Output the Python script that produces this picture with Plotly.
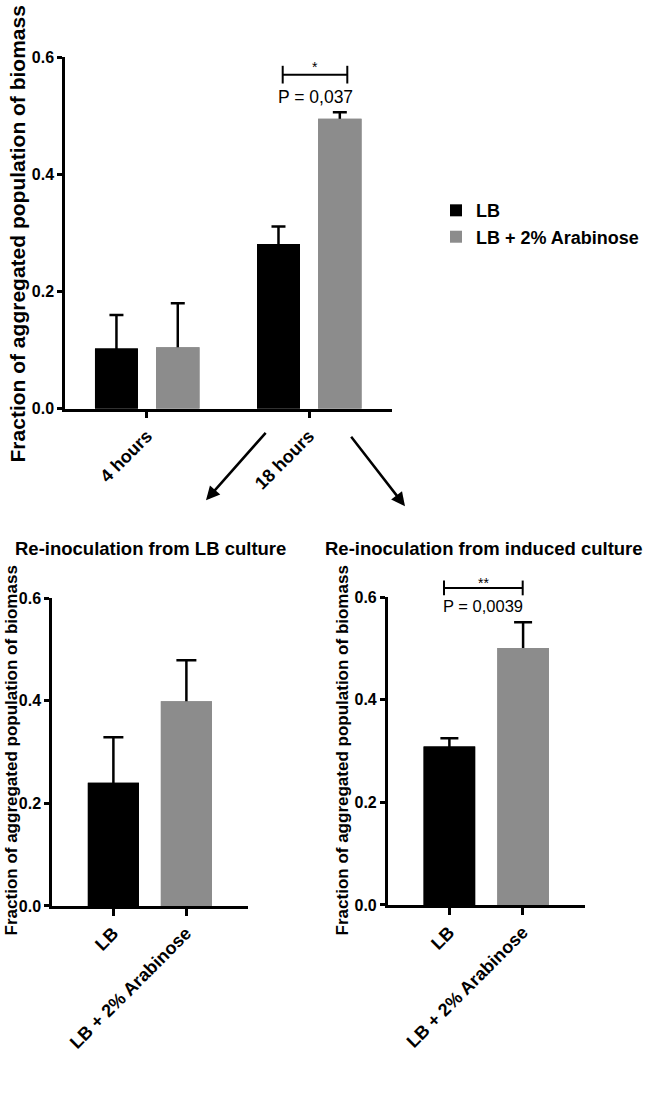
import plotly.graph_objects as go

W, H = 666, 1104

# ---- data ----
time_points = ["4 hours", "18 hours"]
lb_top = [0.103, 0.281]
lb_top_err = [0.057, 0.030]
ara_top = [0.105, 0.495]
ara_top_err = [0.075, 0.011]

conditions = ["LB", "LB + 2% Arabinose"]
reino_lb = [0.240, 0.399]
reino_lb_err = [0.089, 0.080]
reino_ind = [0.309, 0.501]
reino_ind_err = [0.016, 0.050]

y_ticks = [0, 0.2, 0.4, 0.6]
y_ticktext = ["0.0", "0.2", "0.4", "0.6"]

BLACK = "#000000"
GRAY = "#8c8c8c"
FONT = "Liberation Sans, Arial, Helvetica, sans-serif"


def px(x):
    return x / W


def py(y):
    return 1 - y / H


def err(vals, w):
    return dict(type="data", symmetric=True, array=vals,
                color=BLACK, thickness=2.5, width=w, visible=True)


fig = go.Figure()


def bars(x, y, e, color, offset, width, xa, ya, name=None, legend=False, ew=7):
    # bar with its error bar, then the same bar drawn again on top so that only the
    # upper half of the error bar shows (GraphPad style)
    fig.add_trace(go.Bar(x=x, y=y, name=name, marker=dict(color=color, line=dict(width=0)),
                         offset=offset, width=width, error_y=err(e, ew), showlegend=legend,
                         xaxis=xa, yaxis=ya))
    fig.add_trace(go.Bar(x=x, y=y, name=name, marker=dict(color=color, line=dict(width=0)),
                         offset=offset, width=width, showlegend=False, hoverinfo="skip",
                         xaxis=xa, yaxis=ya))


bars(time_points, lb_top, lb_top_err, BLACK, -0.321, 0.265, "x", "y", "LB", True)
bars(time_points, ara_top, ara_top_err, GRAY, 0.056, 0.268, "x", "y", "LB + 2% Arabinose", True)
bars(conditions, reino_lb, reino_lb_err, [BLACK, GRAY], -0.345, 0.70, "x2", "y2", ew=10)
bars(conditions, reino_ind, reino_ind_err, [BLACK, GRAY], -0.345, 0.70, "x3", "y3", ew=9)

axis_common = dict(showline=True, linecolor=BLACK, linewidth=2.5, ticks="outside", tickcolor=BLACK,
                   tickwidth=2.5, showgrid=False, zeroline=False, fixedrange=True)
xfont = dict(family=FONT, size=18, color=BLACK, weight="bold")
yfont = dict(family=FONT, size=16, color=BLACK, weight="bold")

fig.update_layout(
    width=W, height=H, margin=dict(l=0, r=0, t=0, b=0),
    paper_bgcolor="white", plot_bgcolor="white",
    barmode="overlay",
    font=dict(family=FONT, color=BLACK),
    showlegend=True,
    legend=dict(x=px(436), y=py(187), xanchor="left", yanchor="top",
                font=dict(family=FONT, size=18, color=BLACK, weight="bold"),
                bgcolor="rgba(0,0,0,0)", tracegroupgap=0, itemclick=False),
    xaxis=dict(domain=[px(65), px(392)], range=[-0.506, 1.512], anchor="y", ticklen=7,
               tickangle=-45, tickfont=xfont, **axis_common),
    yaxis=dict(domain=[py(407), py(50)], range=[0, 0.6], anchor="x", ticklen=5,
               tickvals=y_ticks, ticktext=y_ticktext, tickfont=yfont, **axis_common),
    xaxis2=dict(domain=[px(52), px(248)], range=[-0.836, 1.849], anchor="y2", ticklen=7,
                tickangle=-45, tickfont=xfont, **axis_common),
    yaxis2=dict(domain=[py(912), py(599.3)], range=[0, 0.6], anchor="x2", ticklen=5,
                tickvals=y_ticks, ticktext=y_ticktext, tickfont=yfont, **axis_common),
    xaxis3=dict(domain=[px(387.7), px(585)], range=[-0.832, 1.845], anchor="y3", ticklen=7,
                tickangle=-45, tickfont=xfont, **axis_common),
    yaxis3=dict(domain=[py(911), py(598.3)], range=[0, 0.6], anchor="x3", ticklen=5,
                tickvals=y_ticks, ticktext=y_ticktext, tickfont=yfont, **axis_common),
)


def text_ann(x, y, text, size, bold=True, angle=0):
    f = dict(family=FONT, size=size, color=BLACK)
    if bold:
        f["weight"] = "bold"
    return dict(x=px(x), y=py(y), xref="paper", yref="paper", text=text, textangle=angle,
                xanchor="center", yanchor="middle", showarrow=False, font=f)


ytitle = "Fraction of aggregated population of biomass"
ann = [
    text_ann(17, 230, ytitle, 21, angle=-90),
    text_ann(11, 754, ytitle, 17, angle=-90),
    text_ann(342, 754, ytitle, 17, angle=-90),
    text_ann(150, 549, "Re-inoculation from LB culture", 18.5),
    text_ann(484, 549, "Re-inoculation from induced culture", 18.5),
    text_ann(315, 90, "P = 0,037", 17.5, bold=False),
    text_ann(315, 60, "*", 14, bold=False),
    text_ann(483, 607, "P = 0,0039", 16.5, bold=False),
    text_ann(483, 584, "**", 14, bold=False),
]
# arrows
ann.append(dict(x=px(206), y=py(500), xref="paper", yref="paper", ax=61, ay=-69, text="",
                showarrow=True, arrowhead=2, arrowsize=1.1, arrowwidth=2.5, arrowcolor=BLACK))
ann.append(dict(x=px(405), y=py(506), xref="paper", yref="paper", ax=-55, ay=-71, text="",
                showarrow=True, arrowhead=2, arrowsize=1.1, arrowwidth=2.5, arrowcolor=BLACK))
fig.update_layout(annotations=ann)

# significance brackets
shapes = []


def bracket(x0, x1, y, h):
    line = dict(color=BLACK, width=2)
    shapes.append(dict(type="line", xref="paper", yref="paper", x0=px(x0), x1=px(x1), y0=py(y), y1=py(y), line=line))
    shapes.append(dict(type="line", xref="paper", yref="paper", x0=px(x0), x1=px(x0), y0=py(y - h), y1=py(y + h), line=line))
    shapes.append(dict(type="line", xref="paper", yref="paper", x0=px(x1), x1=px(x1), y0=py(y - h), y1=py(y + h), line=line))


bracket(282.7, 347.3, 67.7, 9)
bracket(444, 522.7, 589, 7.5)
fig.update_layout(shapes=shapes)

fig.write_html("out.html", config={"displayModeBar": False},
               post_script="document.body.style.margin='0';document.documentElement.style.overflow='hidden';")
